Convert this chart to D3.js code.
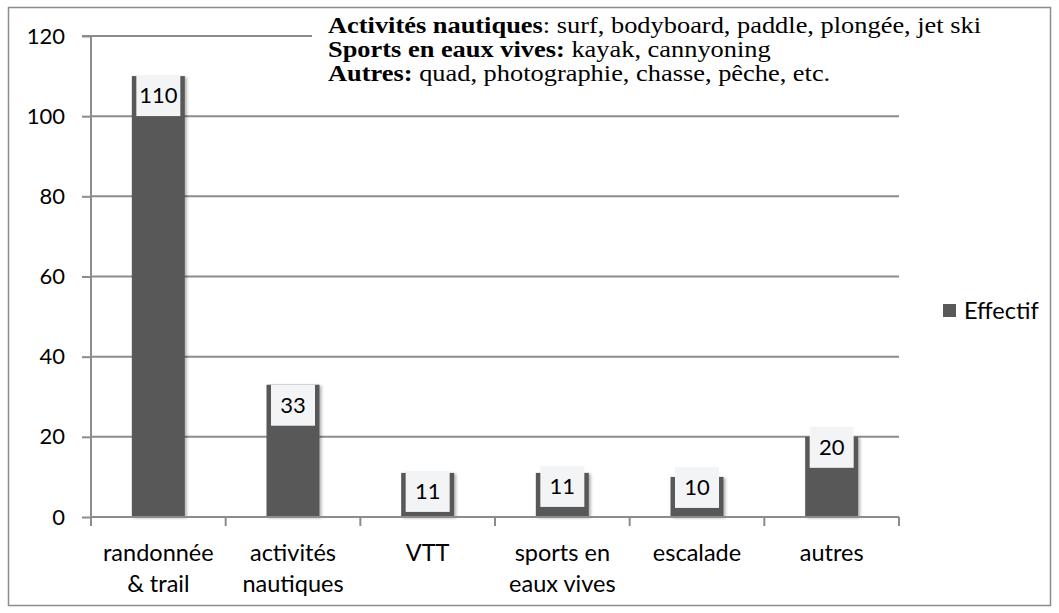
<!DOCTYPE html>
<html><head><meta charset="utf-8">
<script src="https://cdn.jsdelivr.net/npm/d3@7"></script>
<style>
body{margin:0;background:#fff;}
svg{display:block;}
</style></head>
<body>
<svg id="chart" width="1059" height="613"></svg>
<script>
const categories = [["randonnée","& trail"],["activités","nautiques"],["VTT"],["sports en","eaux vives"],["escalade"],["autres"]];
const values = [110, 33, 11, 11, 10, 20];
const seriesName = "Effectif";
const yTicks = [0, 20, 40, 60, 80, 100, 120];
const labelDy = [-1, 0, -2, -7, -10, -10];
const notes = [
  ["Activités nautiques", ": surf, bodyboard, paddle, plongée, jet ski"],
  ["Sports en eaux vives:", " kayak, cannyoning"],
  ["Autres:", " quad, photographie, chasse, pêche, etc."]
];

(function(){
const svg = d3.select("#chart");
const font = "Lato, 'Open Sans', sans-serif";
const grid = "#8c8c8c";
const pl = 91, pr = 899, pt = 36, pb = 517;
const fs = 23.5;

svg.append("rect").attr("x",8.5).attr("y",7.5).attr("width",1042).attr("height",598)
  .attr("fill","#fff").attr("stroke","#8c8c8c").attr("stroke-width",1.5);

const x = d3.scaleBand().domain(d3.range(categories.length)).range([pl,pr]).paddingInner(0).paddingOuter(0);
const y = d3.scaleLinear().domain([0,120]).range([pb, pt]);

const defs = svg.append("defs");
const f = defs.append("filter").attr("id","sh").attr("x","-20%").attr("y","-20%").attr("width","150%").attr("height","150%");
f.append("feGaussianBlur").attr("in","SourceAlpha").attr("stdDeviation",1.6).attr("result","b");
f.append("feOffset").attr("in","b").attr("dx",2).attr("dy",1).attr("result","o");
f.append("feComponentTransfer").attr("in","o").attr("result","o2").append("feFuncA").attr("type","linear").attr("slope",0.3);
const m = f.append("feMerge"); m.append("feMergeNode").attr("in","o2"); m.append("feMergeNode").attr("in","SourceGraphic");

// gridlines
svg.append("g").selectAll("line").data(yTicks.filter(d=>d>0)).join("line")
  .attr("x1",pl).attr("x2",pr).attr("y1",d=>y(d)).attr("y2",d=>y(d))
  .attr("stroke",grid).attr("stroke-width",2);

// y axis
const ya = svg.append("g").attr("transform",`translate(${pl},0)`)
  .call(d3.axisLeft(y).tickValues(yTicks).tickSize(9).tickPadding(17).tickFormat(d3.format("d")));
ya.select(".domain").attr("stroke",grid).attr("stroke-width",2).attr("d",`M-9,${y(120)}H0V${y(0)}`);
ya.selectAll(".tick line").attr("stroke",grid).attr("stroke-width",2);
ya.selectAll(".tick text").attr("font-family",font).attr("font-size",22).attr("fill","#000");

// bars
const bw = 53;
svg.append("g").selectAll("rect").data(values).join("rect")
  .attr("x",(d,i)=>x(i)+x.bandwidth()/2-bw/2).attr("width",bw)
  .attr("y",d=>y(d)).attr("height",d=>y(0)-y(d))
  .attr("fill","#595959").attr("filter","url(#sh)");

// x axis
const xa = svg.append("g").attr("transform",`translate(0,${pb})`);
xa.append("line").attr("x1",pl).attr("x2",pr).attr("stroke",grid).attr("stroke-width",2);
xa.selectAll("line.t").data(d3.range(categories.length+1)).join("line").attr("class","t")
  .attr("x1",i=>pl+i*x.bandwidth()).attr("x2",i=>pl+i*x.bandwidth()).attr("y1",0).attr("y2",9)
  .attr("stroke",grid).attr("stroke-width",2);
const cl = xa.selectAll("text").data(categories).join("text")
  .attr("x",(d,i)=>x(i)+x.bandwidth()/2).attr("y",44)
  .attr("text-anchor","middle").attr("font-family",font).attr("font-size",fs).attr("fill","#000");
cl.selectAll("tspan").data(d=>d).join("tspan")
  .attr("x",function(){return this.parentNode.getAttribute("x");})
  .attr("dy",(d,i)=>i?31:0).text(d=>d);

// data labels
const bh = 41, lw = 44;
const lg = svg.append("g").selectAll("g").data(values).join("g")
  .attr("transform",(d,i)=>`translate(${x(i)+x.bandwidth()/2},${y(d)+labelDy[i]})`);
lg.append("rect").attr("x",-lw/2).attr("y",0).attr("width",lw).attr("height",bh).attr("fill","#f3f4f6");
lg.append("text").attr("y",bh/2).attr("dy","0.36em").attr("text-anchor","middle")
  .attr("font-family",font).attr("font-size",22).attr("fill","#000").text(d=>d);

// notes text box
svg.append("rect").attr("x",312).attr("y",12).attr("width",700).attr("height",84).attr("fill","#fff");
const ng = svg.append("g").attr("transform","translate(328,0) scale(1.1,1)");
const nt = ng.selectAll("text").data(notes).join("text")
  .attr("x",0).attr("y",(d,i)=>33+i*23.8)
  .attr("font-family","'Liberation Serif','Times New Roman',serif").attr("font-size",24).attr("fill","#000");
nt.append("tspan").attr("font-weight","bold").text(d=>d[0]);
nt.append("tspan").text(d=>d[1]);

// legend
const leg = svg.append("g").attr("transform","translate(943,304)");
leg.append("rect").attr("width",13).attr("height",13).attr("fill","#595959");
leg.append("text").attr("x",21).attr("y",6.5).attr("dy","0.36em").attr("font-family",font).attr("font-size",fs).text(seriesName);
})();
</script>
</body></html>
